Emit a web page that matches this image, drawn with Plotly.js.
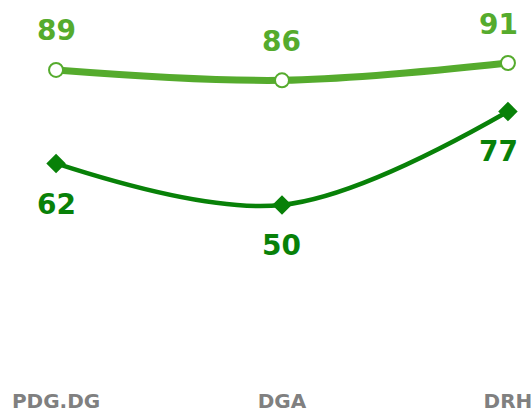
<!DOCTYPE html>
<html><head><meta charset="utf-8">
<script src="https://cdn.plot.ly/plotly-3.0.1.min.js"></script>
<style>html,body{margin:0;padding:0;background:#fff}#c{width:531px;height:415px}</style>
</head><body><div id="c"></div>
<script>
const categories = ["PDG.DG", "DGA", "DRH"];
const seriesTop = [89, 86, 91];
const seriesBottom = [62, 50, 77];
const colTop = "#55ab2d";
const colBot = "#088108";
const font = "DejaVu Sans";

const traces = [
  {x: categories, y: seriesTop, type: "scatter", mode: "lines+markers",
   line: {shape: "spline", color: colTop, width: 7},
   marker: {symbol: "circle", size: 14, color: "#fff", line: {color: colTop, width: 2}},
   hoverinfo: "none"},
  {x: categories, y: seriesBottom, type: "scatter", mode: "lines+markers",
   line: {shape: "spline", color: colBot, width: 4.5},
   marker: {symbol: "diamond", size: 15, color: colBot},
   hoverinfo: "none"}
];
const ann = [];
categories.forEach((c, i) => {
  const xs = i === categories.length - 1 ? -9 : 0;
  ann.push({x: c, y: seriesTop[i], text: String(seriesTop[i]), showarrow: false,
    yshift: 39, xshift: xs, font: {family: font, size: 28, color: colTop, weight: "bold"}});
  ann.push({x: c, y: seriesBottom[i], text: String(seriesBottom[i]), showarrow: false,
    yshift: -41, xshift: xs, font: {family: font, size: 28, color: colBot, weight: "bold"}});
});
ann[5].yshift = -40;
const layout = {
  width: 531, height: 415,
  margin: {l: 0, r: 0, t: 0, b: 37},
  paper_bgcolor: "#fff", plot_bgcolor: "#fff",
  showlegend: false,
  xaxis: {type: "category", range: [-0.248, 2.102], showgrid: false, zeroline: false, showline: false,
    ticks: "", tickfont: {family: font, size: 20, color: "#808080", weight: "bold"}, ticklabelstandoff: 9},
  yaxis: {range: [0, 109.2], visible: false},
  annotations: ann
};
Plotly.newPlot("c", traces, layout, {staticPlot: true});
</script></body></html>
